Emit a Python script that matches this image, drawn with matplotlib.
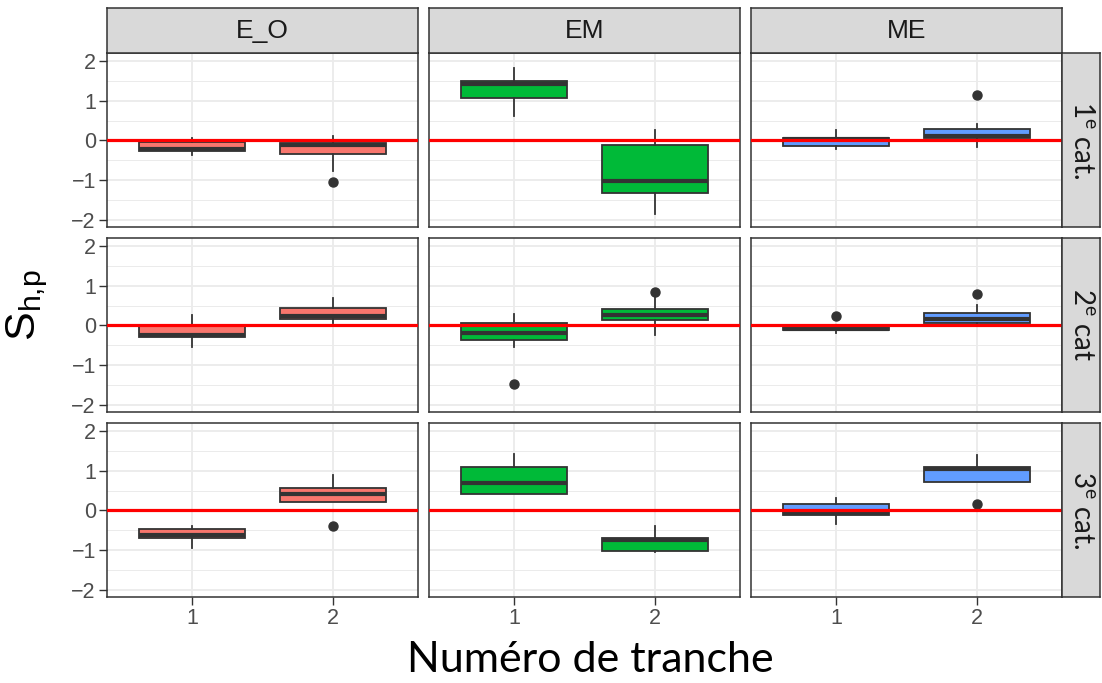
import matplotlib
matplotlib.use("Agg")
import matplotlib.pyplot as plt

plt.rcParams['font.family'] = ['Liberation Sans', 'DejaVu Sans']
plt.rcParams['mathtext.fontset'] = 'custom'
plt.rcParams['mathtext.rm'] = 'Liberation Sans'

# facets
groupes = ['E_O', 'EM', 'ME']
categories = [r'1$^{\mathregular{e}}$ cat.', r'2$^{\mathregular{e}}$ cat', r'3$^{\mathregular{e}}$ cat.']
tranches = [1, 2]
couleurs = ['#F8766D', '#00BA38', '#619CFF']

# box stats: [whislo, q1, med, q3, whishi], outliers
# stats[row][col][tranche]
stats = [
    [  # 1e cat.
        [[-0.37, -0.26, -0.22, -0.04, 0.05], [-0.77, -0.34, -0.12, -0.07, 0.12]],
        [[0.62, 1.07, 1.42, 1.49, 1.83], [-1.85, -1.32, -1.02, -0.12, 0.25]],
        [[-0.22, -0.15, 0.03, 0.07, 0.25], [-0.17, 0.05, 0.10, 0.29, 0.40]],
    ],
    [  # 2e cat
        [[-0.55, -0.29, -0.24, -0.02, 0.25], [0.06, 0.16, 0.24, 0.43, 0.69]],
        [[-0.55, -0.36, -0.19, 0.05, 0.29], [-0.24, 0.14, 0.27, 0.40, 0.72]],
        [[-0.20, -0.12, -0.08, -0.05, 0.02], [0.00, 0.06, 0.16, 0.31, 0.52]],
    ],
    [  # 3e cat.
        [[-0.94, -0.70, -0.63, -0.46, -0.40], [0.20, 0.21, 0.40, 0.57, 0.90]],
        [[0.40, 0.40, 0.68, 1.08, 1.42], [-1.04, -1.03, -0.75, -0.70, -0.39]],
        [[-0.34, -0.12, -0.07, 0.15, 0.30], [0.72, 0.72, 1.03, 1.08, 1.40]],
    ],
]
outliers = [
    [[[], [-1.04]], [[], []], [[], [1.14]]],
    [[[], []], [[-1.47], [0.84]], [[0.24], [0.80]]],
    [[[], [-0.40]], [[], []], [[], [0.16]]],
]

W, H = 1102, 683
fig = plt.figure(figsize=(W / 100, H / 100), dpi=100)

col_left = [107, 429, 751]
row_top = [53.3, 238.3, 423.3]
pw, ph = 311, 173.4

for r in range(3):
    for c in range(3):
        ax = fig.add_axes([col_left[c] / W, 1 - (row_top[r] + ph) / H, pw / W, ph / H])
        ax.set_facecolor('white')
        bxp_stats = []
        for t in range(2):
            s = stats[r][c][t]
            bxp_stats.append(dict(whislo=s[0], q1=s[1], med=s[2], q3=s[3], whishi=s[4],
                                  fliers=outliers[r][c][t]))
        ax.bxp(bxp_stats, positions=tranches, widths=0.75, patch_artist=True,
               showcaps=False,
               boxprops=dict(facecolor=couleurs[c], edgecolor='#333333', linewidth=1.3),
               medianprops=dict(color='#333333', linewidth=3.0),
               whiskerprops=dict(color='#333333', linewidth=1.3),
               flierprops=dict(marker='o', markerfacecolor='#333333', markeredgecolor='#333333',
                               markersize=6.5),
               zorder=3)
        ax.axhline(0, color='#FF0000', linewidth=2.3, zorder=4)

        ax.set_xlim(0.4, 2.6)
        ax.set_ylim(-2.17, 2.19)
        ax.set_yticks([-2, -1, 0, 1, 2])
        ax.set_yticks([-1.5, -0.5, 0.5, 1.5], minor=True)
        ax.set_xticks(tranches)
        ax.set_xticklabels([str(t) for t in tranches])
        ax.set_yticklabels(['\u22122', '\u22121', '0', '1', '2'])
        ax.grid(True, which='major', color='#EBEBEB', linewidth=1.3, zorder=0)
        ax.grid(True, which='minor', axis='y', color='#EBEBEB', linewidth=0.7, zorder=0)
        ax.set_axisbelow(True)
        for sp in ax.spines.values():
            sp.set_color('#333333')
            sp.set_linewidth(1.1)
        ax.tick_params(axis='both', which='major', length=5.5, width=1.0, color='#333333',
                       labelcolor='#4D4D4D', labelsize=15.5, pad=2.5)
        ax.tick_params(axis='y', which='minor', length=0)
        if c != 0:
            ax.tick_params(axis='y', labelleft=False, length=0)
        if r != 2:
            ax.tick_params(axis='x', labelbottom=False, length=0)

        # top strips
        if r == 0:
            sax = fig.add_axes([col_left[c] / W, 1 - 53.3 / H, pw / W, 45.3 / H])
            sax.set_facecolor('#D9D9D9')
            sax.set_xticks([])
            sax.set_yticks([])
            for sp in sax.spines.values():
                sp.set_color('#333333')
                sp.set_linewidth(1.1)
            sax.text(0.5, 0.5, groupes[c], ha='center', va='center', fontsize=19,
                     color='#1A1A1A', transform=sax.transAxes)
        # right strips
        if c == 2:
            rax = fig.add_axes([1061.7 / W, 1 - (row_top[r] + ph) / H, 38.3 / W, ph / H])
            rax.set_facecolor('#D9D9D9')
            rax.set_xticks([])
            rax.set_yticks([])
            for sp in rax.spines.values():
                sp.set_color('#333333')
                sp.set_linewidth(1.1)
            rax.text(0.5, 0.5, categories[r], ha='center', va='center', fontsize=20,
                     rotation=-90, color='#1A1A1A', transform=rax.transAxes,
                     family=['Lato', 'DejaVu Sans'])

fig.text(590 / W, 1 - 660 / H, 'Numéro de tranche', ha='center', va='center',
         fontsize=31, color='black', family=['Lato', 'DejaVu Sans'])
fig.text(27 / W, 1 - 305 / H, r'$\mathregular{S_{h{,}p}}$', ha='center', va='center',
         fontsize=31, rotation=90, color='black')

fig.savefig('out.png', dpi=100)
